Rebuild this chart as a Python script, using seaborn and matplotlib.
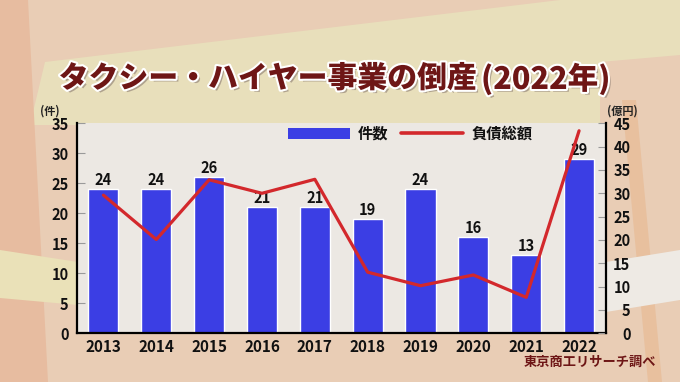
import numpy as np
import pandas as pd
import matplotlib
matplotlib.use("Agg")
import matplotlib.pyplot as plt
import matplotlib.patheffects as pe
from matplotlib.patches import Polygon
from matplotlib.lines import Line2D
from matplotlib.patches import Patch
import seaborn as sns

# ---- data ----
years = ["2013", "2014", "2015", "2016", "2017", "2018", "2019", "2020", "2021", "2022"]
counts = [24, 24, 26, 21, 21, 19, 24, 16, 13, 29]           # 件数 (left axis)
debt = [29.6, 20.1, 32.9, 30.0, 33.0, 13.1, 10.2, 12.5, 7.7, 43.4]  # 負債総額 億円 (right axis)
left_ticks = [0, 5, 10, 15, 20, 25, 30, 35]
right_ticks = [0, 5, 10, 15, 20, 25, 30, 35, 40, 45]
title_main = "タクシー・ハイヤー事業の倒産"
title_year = "(2022年)"
legend_labels = ["件数", "負債総額"]
source = "東京商工リサーチ調べ"

sns.set_style("white")
plt.rcParams["font.family"] = ["Noto Sans CJK JP", "DejaVu Sans"]

BLUE = "#3b3ee4"
RED = "#d3282c"
DARKRED = "#6e1616"

W, H = 680, 382
fig = plt.figure(figsize=(6.8, 3.82), dpi=100)
fig.patch.set_facecolor("#e9cdb5")

# ---- decorative background ----
bg = fig.add_axes([0, 0, 1, 1], zorder=-10)
bg.set_xlim(0, W)
bg.set_ylim(H, 0)
bg.axis("off")
shapes = [
    ([(30, 125), (45, 62), (560, 0), (680, 0), (680, 55), (600, 62), (600, 125)], "#e8dfbb"),
    ([(0, 0), (28, 0), (48, 382), (0, 382)], "#e7bca0"),
    ([(0, 250), (78, 262), (78, 305), (0, 298)], "#eae1b8"),
    ([(622, 100), (636, 100), (662, 382), (648, 382)], "#e8c09e"),
    ([(606, 262), (680, 250), (680, 300), (606, 312)], "#eeeae4"),
]
for pts, c in shapes:
    bg.add_patch(Polygon(pts, closed=True, facecolor=c, edgecolor="none"))

# ---- main axes ----
L, R, B, T = 77, 605.5, 333.3, 123.3
ax = fig.add_axes([L / W, 1 - B / H, (R - L) / W, (B - T) / H])
ax.set_facecolor("#ece8e3")

df = pd.DataFrame({"year": years, "count": counts, "debt": debt})
sns.barplot(data=df, x="year", y="count", color=BLUE, saturation=1, width=0.57,
            ax=ax, zorder=2)
ax.set_xlim(-0.5, len(years) - 0.5)
ax.set_ylim(0, 35)
ax.set_yticks(left_ticks)
ax.set_xlabel("")
ax.set_ylabel("")
ax.bar_label(ax.containers[0], fmt="%d", padding=1, fontsize=10.5,
             fontweight="bold", color="#111111")

ax2 = ax.twinx()
sns.lineplot(x=np.arange(len(years)), y=df["debt"], color=RED, linewidth=2.3,
             ax=ax2, zorder=3)
ax2.set_ylim(0, 45)
ax2.set_yticks(right_ticks)
ax2.set_ylabel("")
ax2.set_xlim(-0.5, len(years) - 0.5)

# spines
for a in (ax, ax2):
    a.spines["top"].set_visible(False)
ax.spines["right"].set_visible(False)
ax2.spines["left"].set_visible(False)
ax2.spines["bottom"].set_visible(False)
for s in ("left", "bottom"):
    ax.spines[s].set_color("black")
    ax.spines[s].set_linewidth(1.6)
ax2.spines["right"].set_color("black")
ax2.spines["right"].set_linewidth(1.6)

# ticks
ax.tick_params(axis="y", direction="in", length=6, width=0.8, color="#9a9a9a",
               pad=6, labelsize=10.5, labelcolor="#111111")
ax.tick_params(axis="x", which="major", length=0, pad=4, labelsize=11,
               labelcolor="#111111")
ax.set_xticks(np.arange(len(years)) + 0.5, minor=True)
ax.tick_params(axis="x", which="minor", direction="in", length=4, width=0.8,
               color="#9a9a9a")
for lab in ax.get_yticklabels() + ax.get_xticklabels():
    lab.set_fontweight("bold")
ax2.tick_params(axis="y", direction="in", length=6, width=0.8, color="#9a9a9a",
                pad=18, labelsize=10.5, labelcolor="#111111")
for lab in ax2.get_yticklabels():
    lab.set_fontweight("bold")
    lab.set_horizontalalignment("right")

# unit labels
fig.text(50 / W, 1 - 111 / H, "(件)", fontsize=8, fontweight="bold",
         ha="center", va="center", color="#222222")
fig.text(622 / W, 1 - 111 / H, "(億円)", fontsize=8, fontweight="bold",
         ha="center", va="center", color="#222222")

# legend
handles = [Patch(facecolor=BLUE, edgecolor="none"),
           Line2D([0], [0], color=RED, linewidth=2.6)]
leg = ax2.legend(handles, legend_labels, loc="center", bbox_to_anchor=(0.63, 0.951),
                 ncol=2, frameon=False, handlelength=4.1, handleheight=0.75,
                 handletextpad=0.5, columnspacing=0.8, borderaxespad=0,
                 prop={"size": 11, "weight": "bold"})
for t in leg.get_texts():
    t.set_color("#111111")

# title
effects = [pe.withSimplePatchShadow(offset=(2, -2), shadow_rgbFace="#8a7a70", alpha=0.6),
           pe.withStroke(linewidth=3, foreground="white")]
t1 = fig.text(477 / W, 1 - 78 / H, title_main, fontsize=21.5, fontweight="heavy",
              ha="right", va="center", color=DARKRED, path_effects=effects)
t2 = fig.text(481 / W, 1 - 79 / H, title_year, fontsize=22, fontweight="heavy",
              ha="left", va="center", color=DARKRED, path_effects=effects)

# source
fig.text(656 / W, 1 - 362 / H, source, fontsize=9.5, fontweight="bold",
         ha="right", va="center", color=DARKRED)

fig.savefig("out.png", dpi=100, facecolor=fig.get_facecolor())
